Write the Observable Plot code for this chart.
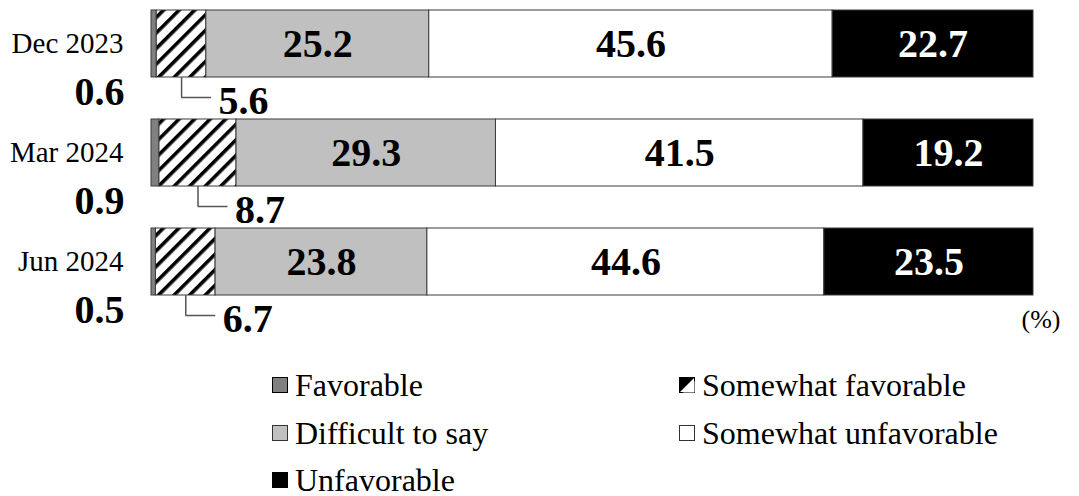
<!DOCTYPE html>
<html><head><meta charset="utf-8">
<script src="https://cdn.jsdelivr.net/npm/d3@7"></script>
<script src="https://cdn.jsdelivr.net/npm/@observablehq/plot@0.6"></script>
<style>
body{margin:0;background:#fff;font-family:"Liberation Serif","Times New Roman",serif;overflow:hidden}
#chart svg{display:block}
#legend{position:relative;width:1079px;height:146px;}
.item{position:absolute;display:flex;align-items:center;font-family:"Liberation Serif","Times New Roman",serif;font-size:32px;line-height:30px;height:30px;white-space:nowrap;color:#000;transform:translateY(-50%)}
.item svg{margin-right:7px;display:block}
</style></head><body>
<svg width="0" height="0" style="position:absolute"><defs>
<pattern id="hatch" patternUnits="userSpaceOnUse" width="11" height="11" patternTransform="rotate(45)">
<rect width="11" height="11" fill="#fff"/><rect x="0" y="0" width="3.6" height="11" fill="#000"/>
</pattern>
</defs></svg>
<div id="chart"></div><div id="legend"></div>
<script>
const periods = ["Dec 2023", "Mar 2024", "Jun 2024"];
const categories = ["Favorable", "Somewhat favorable", "Difficult to say", "Somewhat unfavorable", "Unfavorable"];
const favorable = [0.6, 0.9, 0.5];
const somewhatFavorable = [5.6, 8.7, 6.7];
const difficultToSay = [25.2, 29.3, 23.8];
const somewhatUnfavorable = [45.6, 41.5, 44.6];
const unfavorable = [22.7, 19.2, 23.5];
const unitLabel = "(%)";

const series = [favorable, somewhatFavorable, difficultToSay, somewhatUnfavorable, unfavorable];
const segments = [];
periods.forEach((p, i) => {
  const vals = series.map(s => s[i]);
  const total = d3.sum(vals);
  let acc = 0;
  vals.forEach((v, j) => {
    const x1 = acc / total; acc += v; const x2 = acc / total;
    segments.push({period: p, cat: categories[j], value: v, x1, x2, mid: (x1 + x2) / 2});
  });
});
const inner = segments.filter(d => ["Difficult to say", "Somewhat unfavorable"].includes(d.cat));
const innerW = segments.filter(d => d.cat === "Unfavorable");
const hatch = segments.filter(d => d.cat === "Somewhat favorable");
const fav = segments.filter(d => d.cat === "Favorable");
const off = 0.034;
const ff = "Liberation Serif, Times New Roman, serif";

const chart = Plot.plot({
  width: 1079, height: 350,
  marginLeft: 151, marginRight: 46, marginTop: 0, marginBottom: 23,
  x: {domain: [0, 1], axis: null},
  y: {domain: periods, axis: null, padding: 0},
  color: {type: "ordinal", domain: categories, range: ["#808080", "url(#hatch)", "#c0c0c0", "#ffffff", "#000000"]},
  style: {fontFamily: ff, background: "white", overflow: "visible"},
  marks: [
    Plot.barX(segments, {x1: "x1", x2: "x2", y: "period", fill: "cat", stroke: "#3a3a3a", strokeWidth: 1, insetTop: 10, insetBottom: 32}),
    Plot.text(inner, {x: "mid", y: "period", text: d => d.value.toFixed(1), dy: -11, fontSize: 40, fontWeight: "bold", fontFamily: ff, fill: "black"}),
    Plot.text(innerW, {x: "mid", y: "period", text: d => d.value.toFixed(1), dy: -11, fontSize: 40, fontWeight: "bold", fontFamily: ff, fill: "white"}),
    Plot.ruleX(hatch, {x: "mid", y1: "period", y2: "period", insetTop: 77, insetBottom: 12, stroke: "#555", strokeWidth: 1.5}),
    Plot.ruleY(hatch, {y: "period", x1: "mid", x2: d => d.mid + off, dy: 42.5, stroke: "#555", strokeWidth: 1.5}),
    Plot.text(hatch, {x: d => d.mid + off, y: "period", text: d => d.value.toFixed(1), dx: 7, dy: 46, textAnchor: "start", fontSize: 40, fontWeight: "bold", fontFamily: ff, fill: "black"}),
    Plot.text(periods, {frameAnchor: "left", y: d => d, text: d => d, dx: -28, dy: -11, textAnchor: "end", fontSize: 29, fontFamily: ff, fill: "black"}),
    Plot.text(fav, {frameAnchor: "left", y: "period", text: d => d.value.toFixed(1), dx: -27, dy: 37, textAnchor: "end", fontSize: 40, fontWeight: "bold", fontFamily: ff, fill: "black"}),
    Plot.text([unitLabel], {frameAnchor: "bottom-right", text: d => d, dx: 27, dy: 0, textAnchor: "end", fontSize: 26, fontFamily: ff, fill: "black"})
  ]
});
document.getElementById("chart").appendChild(chart);

const markers = {
  "Favorable": '<rect x="0.5" y="0.5" width="15" height="15" fill="#808080" stroke="#000"/>',
  "Somewhat favorable": '<rect x="0.5" y="0.5" width="15" height="15" fill="#fff" stroke="#000"/><polygon points="0.5,0.5 15.5,0.5 0.5,15.5" fill="#000"/><polygon points="15.5,4 15.5,15.5 4,15.5" fill="#fff"/>',
  "Difficult to say": '<rect x="0.5" y="0.5" width="15" height="15" fill="#c0c0c0" stroke="#333"/>',
  "Somewhat unfavorable": '<rect x="0.5" y="0.5" width="15" height="15" fill="#fff" stroke="#333"/>',
  "Unfavorable": '<rect x="0.5" y="0.5" width="15" height="15" fill="#000" stroke="#000"/>'
};
const pos = {
  "Favorable": [272, 35], "Somewhat favorable": [679, 35],
  "Difficult to say": [272, 83], "Somewhat unfavorable": [679, 83],
  "Unfavorable": [272, 130]
};
const legend = document.getElementById("legend");
categories.forEach(c => {
  const el = document.createElement("div");
  el.className = "item";
  el.style.left = pos[c][0] + "px";
  el.style.top = pos[c][1] + "px";
  el.innerHTML = '<svg width="16" height="16">' + markers[c] + '</svg><span>' + c + '</span>';
  legend.appendChild(el);
});
</script>
</body></html>
